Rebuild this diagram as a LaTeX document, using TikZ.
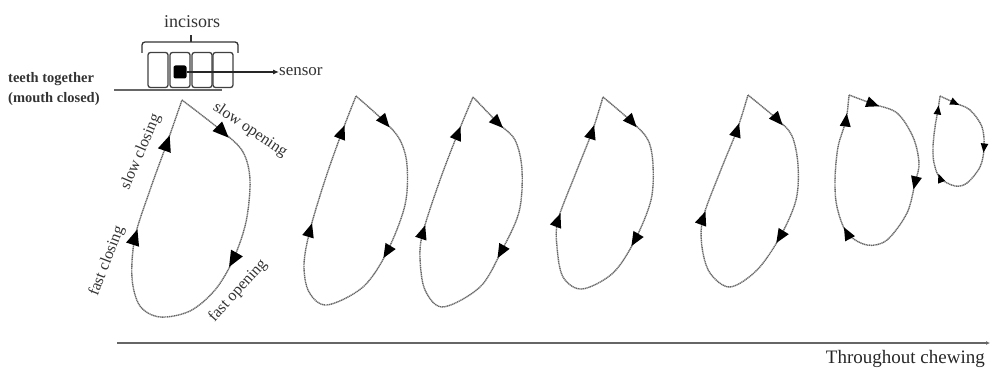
\documentclass[tikz,border=0pt]{standalone}
\usepackage{fontspec}
\setmainfont{Liberation Serif}
\usetikzlibrary{decorations.markings,arrows.meta}
\tikzset{
  curve/.style={draw=black!60, line width=1.4pt, dash pattern=on 1.2pt off 0.6pt},
  ah/.style={decoration={markings, mark=at position 0pt with {\fill[black] (#1,0) -- (-#1,{0.85*#1}) -- (-#1,{-0.85*#1}) -- cycle;}}, postaction=decorate},
  tooth/.style={draw=black!75, line width=1.3pt, rounded corners=2.5pt, minimum width=20pt, minimum height=35pt, inner sep=0pt},
  lbl/.style={font=\fontsize{16}{18}\selectfont, text=black!80, inner sep=0pt},
  gline/.style={draw=black!60, line width=1.3pt},
}
\newcommand\ahd[3]{\path[ah=#1] (#2) -- (#3);}
\begin{document}
\begin{tikzpicture}[x=1pt,y=-1pt]
\useasboundingbox (0,0) rectangle (992,371);
% incisors
\node[tooth] (t1) at (158,70) {};
\node[tooth] (t2) at (180,70) {};
\node[tooth] (t3) at (202,70) {};
\node[tooth] (t4) at (223,70) {};
\node[fill=black, rounded corners=2pt, minimum size=13pt, inner sep=0pt] (sq) at (180,72) {};
\draw[black!80, line width=1.3pt, rounded corners=3pt] (142,53) -- (142,42) -- (238,42) -- (238,53);
\coordinate (btip) at (191,35);
\draw[black!80, line width=1.3pt] (191,42) -- (btip);
\node[font=\fontsize{18}{20}\selectfont, text=black!80] (inc) at (192,22) {incisors};
\node[font=\fontsize{17}{19}\selectfont, text=black!80, anchor=west, inner sep=0pt] (sens) at (279,72) {sensor};
\draw[black!85, line width=1.1pt, -{Latex[length=6pt,width=5pt]}] (sq.east) -- (sens.west);
% mouth closed
\node[font=\fontsize{14.5}{16}\selectfont\bfseries, text=black!80, anchor=west, inner sep=0pt] (tt) at (8,79) {teeth together};
\node[font=\fontsize{14.5}{16}\selectfont\bfseries, text=black!80, anchor=west, inner sep=0pt] (mc) at (8,99) {(mouth closed)};
\coordinate (mcl) at (114,90);
\coordinate (mcr) at (222,90);
\draw[gline] (mcl) -- (mcr);
% loop 1
\draw[curve] plot[smooth, tension=0.55] coordinates {(182,100) (223,132) (243,152) (250,180) (246,222) (233,260) (215,290) (190,311) (160,317) (140,306) (132,278) (135,237) (150,190) (167,143) (182,100)};
\ahd{8pt}{223,132}{243,152}
\ahd{8pt}{233,260}{220,283}
\ahd{8pt}{135,237}{150,190}
\ahd{8pt}{167,143}{182,100}
\node[lbl, rotate=67] (sc) at (141,152) {slow closing};
\node[lbl, rotate=-34] (so) at (250,130) {slow opening};
\node[lbl, rotate=69] (fc) at (107,261) {fast closing};
\node[lbl, rotate=48] (fo) at (238,291) {fast opening};
% loop 2
\draw[curve] plot[smooth, tension=0.55] coordinates {(356,96) (385,122) (400,140) (407,165) (405,205) (387,252) (363,287) (327,305) (309,292) (304,265) (310,230) (325,180) (342,132) (356,96)};
\ahd{7pt}{385,122}{400,140}
\ahd{7pt}{387,252}{375,272}
\ahd{7pt}{310,230}{325,180}
\ahd{7pt}{342,132}{356,96}
% loop 3
\draw[curve] plot[smooth, tension=0.55] coordinates {(473,97) (498,123) (515,140) (522,170) (519,212) (501,252) (480,287) (443,307) (425,290) (420,258) (423,232) (440,180) (458,133) (473,97)};
\ahd{7pt}{498,123}{515,140}
\ahd{7pt}{501,252}{488,275}
\ahd{7pt}{423,232}{440,180}
\ahd{7pt}{458,133}{473,97}
% loop 4
\draw[curve] plot[smooth, tension=0.55] coordinates {(603,97) (632,122) (648,140) (653,165) (651,200) (635,240) (613,273) (582,289) (563,277) (557,247) (558,220) (575,175) (592,132) (603,97)};
\ahd{7pt}{632,122}{648,140}
\ahd{7pt}{635,240}{622,262}
\ahd{7pt}{558,220}{575,175}
\ahd{7pt}{592,132}{603,97}
% loop 5
\draw[curve] plot[smooth, tension=0.55] coordinates {(748,95) (778,120) (792,136) (798,165) (796,200) (780,237) (757,270) (730,287) (710,273) (702,247) (703,218) (720,172) (737,130) (748,95)};
\ahd{7pt}{778,120}{792,136}
\ahd{7pt}{780,237}{767,258}
\ahd{7pt}{703,218}{720,172}
\ahd{7pt}{737,130}{748,95}
% loop 6
\draw[curve] plot[smooth, tension=0.55] coordinates {(849,95) (873,104) (897,113) (913,137) (919,163) (915,183) (907,213) (887,240) (867,245) (847,233) (837,207) (835,180) (838,147) (846,120) (849,95)};
\ahd{6.5pt}{873,104}{897,113}
\ahd{6.5pt}{915,183}{911,200}
\ahd{6.5pt}{847,233}{839,218}
\ahd{6.5pt}{846,120}{849,95}
% loop 7
\draw[curve] plot[smooth, tension=0.55] coordinates {(940,96) (955,103) (970,110) (982,127) (984,148) (980,167) (967,183) (955,186) (940,178) (934,163) (933,147) (935,127) (938,110) (940,96)};
\ahd{4.5pt}{955,103}{970,110}
\ahd{4.5pt}{984,148}{982,165}
\ahd{4.5pt}{940,178}{934,163}
\ahd{4.5pt}{938,110}{940,96}
% time axis
\coordinate (ax0) at (117,343);
\coordinate (ax1) at (990,343);
\draw[gline, line width=1.1pt, -{Latex[length=4pt,width=4pt]}] (ax0) -- (ax1);
\node[font=\fontsize{19}{21}\selectfont, text=black!85, anchor=east, inner sep=0pt] (tc) at (985,359) {Throughout chewing};
\end{tikzpicture}
\end{document}
